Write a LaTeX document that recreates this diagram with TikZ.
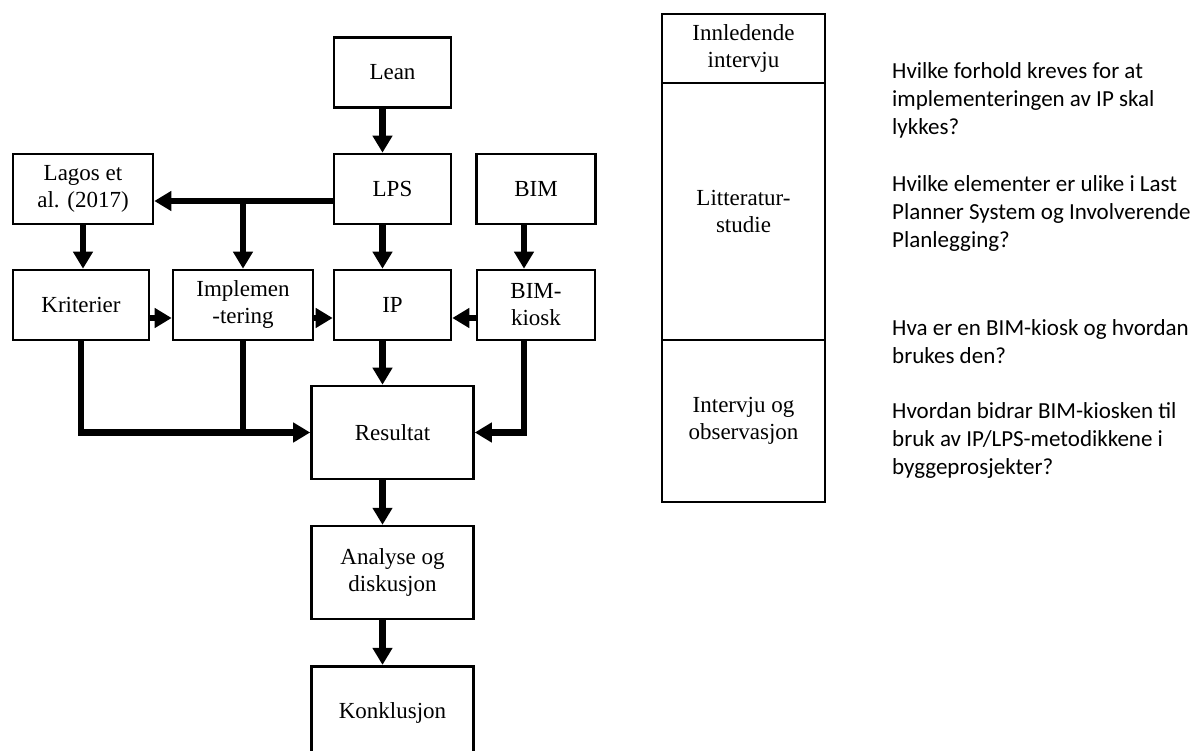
\documentclass[tikz,border=0pt]{standalone}
\usepackage{fontspec}
\setmainfont{Liberation Serif}
\newfontfamily\qfont{Carlito}
\usepackage{tikz}
\usetikzlibrary{arrows.meta,positioning}

\begin{document}
\begin{tikzpicture}[x=1pt, y=-1pt,
  box/.style={draw, line width=2.6pt, align=center, inner sep=2pt, font=\fontsize{23}{27}\selectfont},
  phase/.style={box, outer sep=0pt, minimum width=163pt},
  question/.style={anchor=west, align=left, inner sep=0pt, font=\qfont\fontsize{23}{28}\selectfont},
  arrow/.style={-{Triangle[length=17pt, width=19pt]}, line width=6.2pt},
  link/.style={line width=6.2pt}
]
\useasboundingbox (0,0) rectangle (1197,751);
\node[box, minimum width=117pt, minimum height=70pt] (lean) at (392.5,72.5) {Lean};
\node[box, minimum width=117pt, minimum height=70pt] (lps) at (392.5,189) {LPS};
\node[box, minimum width=119pt, minimum height=70pt] (bim) at (536,189) {BIM};
\node[box, minimum width=140pt, minimum height=70pt] (lagos) at (83,189) {Lagos et\\al. (2017)};
\node[box, minimum width=136pt, minimum height=70pt] (krit) at (81,305) {Kriterier};
\node[box, minimum width=140pt, minimum height=70pt] (impl) at (243,305) {Implemen\\-tering};
\node[box, minimum width=117pt, minimum height=70pt] (ip) at (392.5,305) {IP};
\node[box, minimum width=118pt, minimum height=70pt] (kiosk) at (536,305) {BIM-\\kiosk};
\node[box, minimum width=162pt, minimum height=93pt] (result) at (392.5,432.5) {Resultat};
\node[box, minimum width=162pt, minimum height=93pt, below=44.5pt of result] (analyse) {Analyse og\\diskusjon};
\node[box, minimum width=162pt, minimum height=93pt, below=44.5pt of analyse] (konkl) {Konklusjon};

\node[phase, minimum height=69pt] (innl) at (743.5,48.5) {Innledende\\intervju};
\node[phase, minimum height=257pt, below=0pt of innl] (litt) {Litteratur-\\studie};
\node[phase, minimum height=162pt, below=0pt of litt] (intv) {Intervju og\\observasjon};

\node[question] (q1) at (892,100) {Hvilke forhold kreves for at\\implementeringen av IP skal\\lykkes?};
\node[question] (q2) at (892,213) {Hvilke elementer er ulike i Last\\Planner System og Involverende\\Planlegging?};
\node[question] (q3) at (892,342) {Hva er en BIM-kiosk og hvordan\\brukes den?};
\node[question] (q4) at (892,440) {Hvordan bidrar BIM-kiosken til\\bruk av IP/LPS-metodikkene i\\byggeprosjekter?};

\coordinate (tee) at ([yshift=-12pt]lps.west);
\draw[arrow] ([xshift=-10pt]lean.south) -- ([xshift=-10pt]lps.north);
\draw[arrow] (tee) -- (lagos.east |- tee);
\draw[arrow] (impl.north |- tee) -- (impl.north);
\draw[arrow] ([xshift=-10pt]lps.south) -- ([xshift=-10pt]ip.north);
\draw[arrow] ([xshift=-12pt]bim.south) -- ([xshift=-12pt]kiosk.north);
\draw[arrow] (lagos.south) -- (krit.north -| lagos.south);
\draw[arrow] ([yshift=-13pt]krit.east) -- ([yshift=-13pt]impl.west);
\draw[arrow] ([yshift=-13pt]impl.east) -- ([yshift=-13pt]ip.west);
\draw[arrow] ([yshift=-13pt]kiosk.west) -- ([yshift=-13pt]ip.east);
\draw[arrow] ([xshift=-10pt]ip.south) -- ([xshift=-10pt]result.north);
\draw[arrow] (krit.south) |- (result.west);
\draw[link] (impl.south) -- (impl.south |- result.west);
\draw[arrow] ([xshift=-12pt]kiosk.south) |- (result.east);
\draw[arrow] ([xshift=-10pt]result.south) -- ([xshift=-10pt]analyse.north);
\draw[arrow] ([xshift=-10pt]analyse.south) -- ([xshift=-10pt]konkl.north);
\end{tikzpicture}
\end{document}
